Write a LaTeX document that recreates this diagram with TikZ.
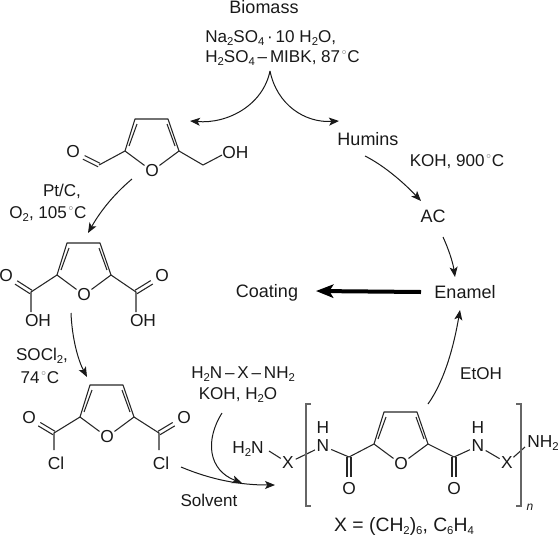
\documentclass[tikz,border=0pt]{standalone}
\usepackage{fontspec}
\setmainfont{Liberation Sans}
\usetikzlibrary{arrows.meta,calc}
\newcommand{\sbs}[1]{\raisebox{-2.4pt}{\fontsize{8.5}{8.5}\selectfont #1}}
\newcommand{\degC}{\hspace{1pt}{\color{black!55}\raisebox{5.5pt}{\fontsize{6}{6}\selectfont$\circ$}}\hspace{.6pt}C}
\tikzset{
  lab/.style={inner sep=0pt,anchor=base,text=black!90},
  rgt/.style={lab,font=\fontsize{12.8}{12.8}\selectfont},
  rgtw/.style={rgt,anchor=base west},
  atl/.style={lab,font=\fontsize{13}{13}\selectfont},
  atom/.style={circle,inner sep=0pt,text=black!90,font=\fontsize{13}{13}\selectfont},
  bond/.style={line width=.8pt,draw=black!85},
  rx/.style={line width=.75pt,draw=black!90,-{Stealth[length=7.5pt,width=6pt,inset=1.8pt]}},
  bigrx/.style={line width=3pt,draw=black,-{Stealth[length=13pt,width=10pt,inset=3pt]}},
  brk/.style={line width=.9pt,draw=black!60},
}
% furan ring with its oxygen at #2,#3, node names prefixed with #1
\newcommand{\furan}[3]{%
  \node[atom] (#1O) at (#2,#3) {O};
  \coordinate (#1a) at (#2-27,#3-20);
  \coordinate (#1b) at (#2-17,#3-52);
  \coordinate (#1c) at (#2+16,#3-52);
  \coordinate (#1d) at (#2+27,#3-20);
  \draw[bond,line join=round] (#1O) -- (#1a) -- (#1b) -- (#1c) -- (#1d) -- (#1O);
  \draw[bond] (#2-23,#3-25) -- (#2-15,#3-47);
  \draw[bond] (#2+23,#3-25) -- (#2+15,#3-47);
}
% carbonyl double bond from coordinate #1 to atom #2
\newcommand{\dbl}[2]{%
  \draw[bond,shorten >=9pt] ($(#1)!1.5pt!90:(#2)$) -- ($(#2)!1.5pt!-90:(#1)$);
  \draw[bond,shorten >=9pt] ($(#1)!1.5pt!-90:(#2)$) -- ($(#2)!1.5pt!90:(#1)$);
}
\begin{document}
\begin{tikzpicture}[x=.75pt,y=-.75pt,font=\fontsize{13.5}{13.5}\selectfont]
\useasboundingbox (0,0) rectangle (560,536);
% free text
\node[lab] (biomass) at (264,13) {Biomass};
\node[rgtw] (cond1) at (205,42) {Na\sbs{2}SO\sbs{4}\,·\,10 H\sbs{2}O,};
\node[rgtw] (cond2) at (205,62) {H\sbs{2}SO\sbs{4}\,–\,MIBK, 87\degC};
\node[lab] (humins) at (368,145) {Humins};
\node[rgt] (koh) at (457,166) {KOH, 900\degC};
\node[lab] (ac) at (433,222) {AC};
\node[lab] (enamel) at (465,298) {Enamel};
\node[lab] (coating) at (267,297) {Coating};
\node[rgt] (etoh) at (481,379) {EtOH};
\node[rgt] (ptc) at (62,196) {Pt/C,};
\node[rgt] (o2) at (48,218) {O\sbs{2}, 105\degC};
\node[rgt] (socl) at (42,360) {SOCl\sbs{2},};
\node[rgt] (t74) at (40,383) {74\degC};
\node[rgtw] (diam) at (191,378) {H\sbs{2}N\,–\,X\,–\,NH\sbs{2}};
\node[rgt] (kohw) at (238,399) {KOH, H\sbs{2}O};
\node[rgt] (solvent) at (209,506) {Solvent};
\node[lab,font=\fontsize{14.5}{14.5}\selectfont] (xdef) at (404,531) {X = (CH\sbs{2})\sbs{6}, C\sbs{6}H\sbs{4}};
% HMF
\furan{h}{152}{171}
\coordinate (hald) at (99,165);
\coordinate (hch) at (203,165);
\node[atom] (hoald) at (73,152) {O};
\node[atl,anchor=base west] (hoh) at (222,158) {OH};
\draw[bond] (ha) -- (hald);
\dbl{hald}{hoald}
\draw[bond] (hd) -- (hch) -- ([shift={(0,3)}]hoh.west);
% FDCA
\furan{f}{84}{295}
\coordinate (fl) at (31,292);
\coordinate (fr) at (136,292);
\node[atom] (flo) at (6,276) {O};
\node[atom] (fro) at (162,276) {O};
\node[atl] (floh) at (38,326) {OH};
\node[atl] (froh) at (143,326) {OH};
\draw[bond] (fa) -- (fl) -- (31,312);
\draw[bond] (fd) -- (fr) -- (136,312);
\dbl{fl}{flo}
\dbl{fr}{fro}
% Acid chloride
\furan{c}{107}{437}
\coordinate (cl) at (54,433);
\coordinate (cr) at (159,433);
\node[atom] (clo) at (29,418) {O};
\node[atom] (cro) at (184,418) {O};
\node[atl] (clcl) at (56,469) {Cl};
\node[atl] (crcl) at (161,469) {Cl};
\draw[bond] (ca) -- (cl) -- (54,450);
\draw[bond] (cd) -- (cr) -- (159,450);
\dbl{cl}{clo}
\dbl{cr}{cro}
% Polymer
\furan{p}{401}{464}
\coordinate (pl) at (349,457);
\coordinate (pr) at (454,457);
\node[atom] (plo) at (349,489) {O};
\node[atom] (pro) at (454,489) {O};
\node[atom] (pln) at (323,446) {N};
\node[atom] (prn) at (478,446) {N};
\node[atl] (plh) at (323,433) {H};
\node[atl] (prh) at (478,433) {H};
\node[atom] (plx) at (288,463) {X};
\node[atom] (prx) at (507,463) {X};
\node[atl] (ph2n) at (248,453) {H\sbs{2}N};
\node[atl] (pnh2) at (543,447) {NH\sbs{2}};
\node[lab,font=\fontsize{9}{9}\selectfont\itshape] (pn) at (530,510) {n};
\draw[bond] (pa) -- (pl) -- (pln);
\draw[bond] (pd) -- (pr) -- (prn);
\dbl{pl}{plo}
\dbl{pr}{pro}
\draw[bond] (269,451) -- (plx);
\draw[bond] (plx) -- (pln);
\draw[bond] (prn) -- (prx);
\draw[bond] (prx) -- (525,447);
\draw[brk] (311,404) -- (306,404) -- (306,506) -- (311,506);
\draw[brk] (516,404) -- (521,404) -- (521,506) -- (516,506);
% reaction arrows
\coordinate (fork) at (270,71);
\coordinate (forkl) at (190,121);
\coordinate (forkr) at (339,121);
\draw[rx] (fork) .. controls (263,105) and (228,124) .. (forkl);
\draw[rx] (fork) .. controls (277,105) and (305,123) .. (forkr);
\draw[rx] ([shift={(-3,11)}]humins.base) .. controls (385,166) and (405,184) .. ([shift={(-12,-21)}]ac.base);
\draw[rx] ([shift={(10,15)}]ac.base) .. controls (449,250) and (453,263) .. ([shift={(-10,-21)}]enamel.base);
\draw[bigrx] ([shift={(-44,-6)}]enamel.base) -- ([shift={(49,-6)}]coating.base);
\coordinate (polytop) at (428,404);
\draw[rx] (polytop) .. controls (445,380) and (454,345) .. ([shift={(-5,12)}]enamel.base);
\draw[rx] (132,179) .. controls (113,195) and (100,212) .. (88,233);
\draw[rx] (71,313) .. controls (72,338) and (78,360) .. (87,377);
\draw[rx] (222,413) .. controls (205,440) and (208,470) .. (242,483);
\draw[rx] (181,467) .. controls (212,480) and (240,485) .. (275,485);
\end{tikzpicture}
\end{document}
